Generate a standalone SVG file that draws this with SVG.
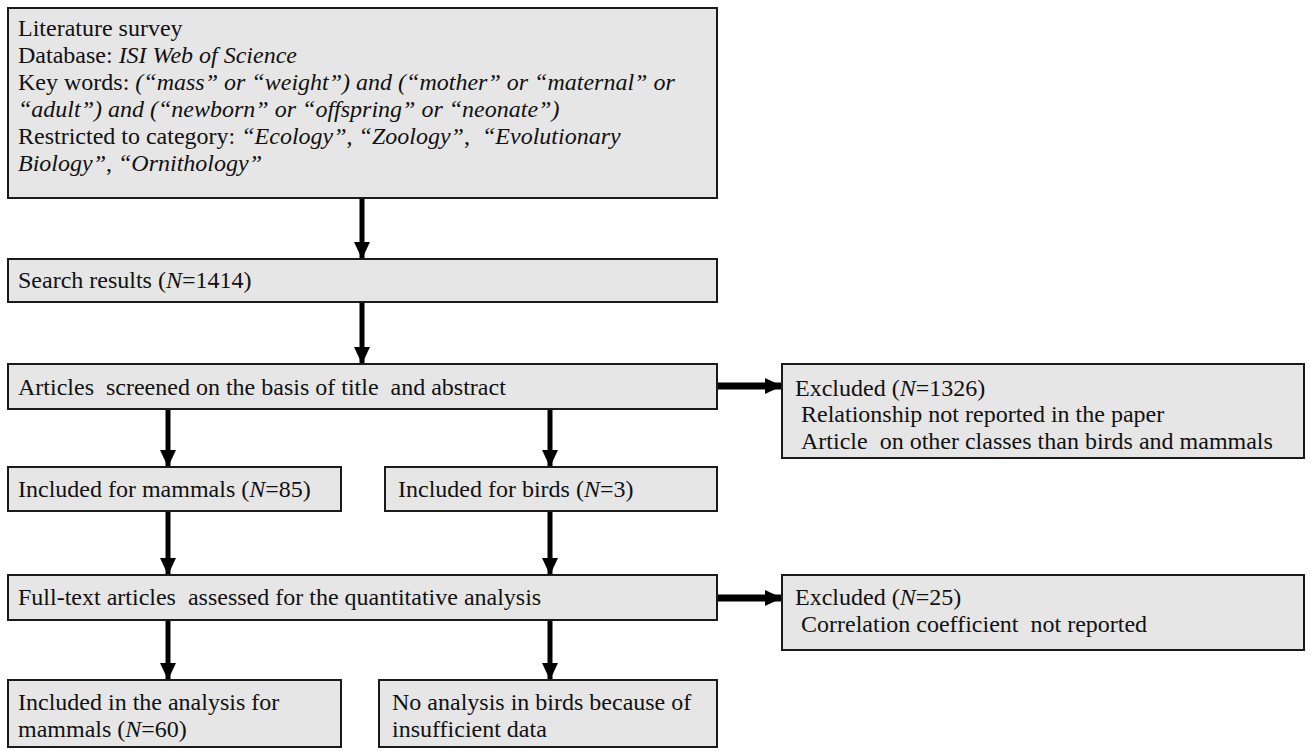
<svg xmlns="http://www.w3.org/2000/svg" width="1311" height="751" viewBox="0 0 1311 751">
<defs>
<style>
.box{fill:#e6e6e6;stroke:#1a1a1a;stroke-width:2}
text{font-family:"Liberation Serif","Times New Roman",serif;font-size:24px;fill:#111}
.i{font-style:italic}
.c{stroke:#000;stroke-width:5;fill:none}
.h{stroke:#000;stroke-width:7;fill:none}
</style>
<marker id="ah" markerUnits="userSpaceOnUse" viewBox="0 0 17 16" refX="17" refY="8" markerWidth="17" markerHeight="16" orient="auto">
<path d="M0,0 L17,8 L0,16 Z" fill="#000"/>
</marker>
</defs>
<rect width="1311" height="751" fill="#fff"/>
<g id="connectors">
<line class="c" x1="362" y1="198" x2="362" y2="259" marker-end="url(#ah)"/>
<line class="c" x1="362" y1="302" x2="362" y2="364" marker-end="url(#ah)"/>
<line class="h" x1="717" y1="386" x2="782" y2="386" marker-end="url(#ah)"/>
<line class="c" x1="168" y1="409" x2="168" y2="467" marker-end="url(#ah)"/>
<line class="c" x1="550" y1="409" x2="550" y2="467" marker-end="url(#ah)"/>
<line class="c" x1="168" y1="511" x2="168" y2="575" marker-end="url(#ah)"/>
<line class="c" x1="550" y1="511" x2="550" y2="575" marker-end="url(#ah)"/>
<line class="h" x1="717" y1="598" x2="782" y2="598" marker-end="url(#ah)"/>
<line class="c" x1="168" y1="620" x2="168" y2="680" marker-end="url(#ah)"/>
<line class="c" x1="550" y1="620" x2="550" y2="680" marker-end="url(#ah)"/>
</g>
<g id="survey">
<rect class="box" x="8" y="8" width="709" height="190"/>
<text x="18" y="36">Literature survey</text>
<text x="18" y="63">Database: <tspan class="i">ISI Web of Science</tspan></text>
<text x="18" y="90">Key words: <tspan class="i">(“mass” or “weight”) and (“mother” or “maternal” or</tspan></text>
<text x="18" y="117" class="i">“adult”) and (“newborn” or “offspring” or “neonate”)</text>
<text x="18" y="144">Restricted to category: <tspan class="i">“Ecology”</tspan>, <tspan class="i">“Zoology”</tspan>,&#160; <tspan class="i">“Evolutionary</tspan></text>
<text x="18" y="171"><tspan class="i">Biology”</tspan>, <tspan class="i">“Ornithology”</tspan></text>
</g>
<g id="search">
<rect class="box" x="8" y="259" width="709" height="43"/>
<text x="18" y="288">Search results (<tspan class="i">N</tspan>=1414)</text>
</g>
<g id="screened">
<rect class="box" x="8" y="364" width="709" height="45"/>
<text x="18" y="395">Articles&#160; screened on the basis of title&#160; and abstract</text>
</g>
<g id="excluded1">
<rect class="box" x="782" y="364" width="522" height="94"/>
<text x="795" y="396">Excluded (<tspan class="i">N</tspan>=1326)</text>
<text x="801" y="422">Relationship not reported in the paper</text>
<text x="801" y="449">Article&#160; on other classes than birds and mammals</text>
</g>
<g id="mammals">
<rect class="box" x="8" y="467" width="333" height="44"/>
<text x="18" y="497">Included for mammals (<tspan class="i">N</tspan>=85)</text>
</g>
<g id="birds">
<rect class="box" x="385" y="467" width="332" height="44"/>
<text x="398" y="497">Included for birds (<tspan class="i">N</tspan>=3)</text>
</g>
<g id="fulltext">
<rect class="box" x="8" y="575" width="709" height="45"/>
<text x="18" y="605">Full-text articles&#160; assessed for the quantitative analysis</text>
</g>
<g id="excluded2">
<rect class="box" x="782" y="575" width="522" height="75"/>
<text x="795" y="605">Excluded (<tspan class="i">N</tspan>=25)</text>
<text x="801" y="632">Correlation coefficient&#160; not reported</text>
</g>
<g id="analysis-mammals">
<rect class="box" x="8" y="680" width="333" height="67"/>
<text x="18" y="710">Included in the analysis for</text>
<text x="18" y="737">mammals (<tspan class="i">N</tspan>=60)</text>
</g>
<g id="analysis-birds">
<rect class="box" x="379" y="680" width="338" height="67"/>
<text x="392" y="710">No analysis in birds because of</text>
<text x="392" y="737">insufficient data</text>
</g>
</svg>
